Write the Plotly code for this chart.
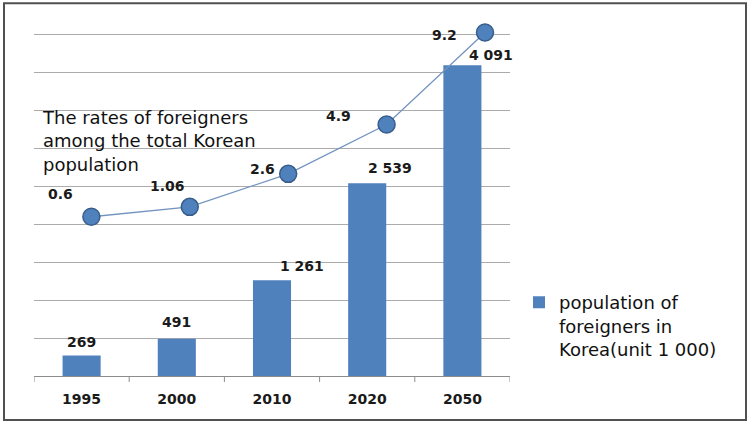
import plotly.graph_objects as go

years = ["1995", "2000", "2010", "2020", "2050"]
population = [269, 491, 1261, 2539, 4091]
rates = [0.6, 1.06, 2.6, 4.9, 9.2]
rates_text = ["0.6", "1.06", "2.6", "4.9", "9.2"]
bar_name = "population of<br>foreigners in<br>Korea(unit 1 000)"
line_note = "The rates of foreigners<br>among the total Korean<br>population"

# label offsets (style only)
bar_lbl_dx = [0, 0, 30, 23, 29]
bar_lbl_dy = [14, 17, 14, 15, 10]
rate_lbl_dx = [-31, -22, -26, -48, -41]
rate_lbl_dy = [23, 21, 5, 9, -3]

FONT = "DejaVu Sans"
W, H = 750, 426
Y_TOP = 4700
AX_Y, GRID_TOP_Y = 376, 34          # pixel rows of 0 and 4500
ppu = (AX_Y - GRID_TOP_Y) / 4500.0
L, R, B = 34, 240, H - AX_Y
T = GRID_TOP_Y - (Y_TOP - 4500) * ppu
pw, ph = W - L - R, H - T - B

def px(x):
    return (x - L) / pw

def py(y):
    return (H - B - y) / ph

# secondary (rate) axis mapping: value 0 at pixel 229.5, 21.44 px per unit
y2_lo = (229.5 - AX_Y) / 21.44
y2_hi = (229.5 - T) / 21.44

idx = list(range(len(years)))

fig = go.Figure()
fig.add_trace(go.Bar(
    x=idx, y=population, name=bar_name, width=0.4,
    marker=dict(color="#4f81bd", line=dict(width=0)),
    xaxis="x", yaxis="y",
))
fig.add_trace(go.Scatter(
    x=idx, y=rates, mode="lines+markers", showlegend=False,
    line=dict(color="#7393c0", width=1.3),
    marker=dict(size=17, color="#4f81bd", line=dict(color="#385d8a", width=1.5)),
    xaxis="x2", yaxis="y2", cliponaxis=False,
))

annotations = []
for i, v in enumerate(population):
    annotations.append(dict(
        x=i, y=v, xref="x", yref="y", text=f"{v:,}".replace(",", " "),
        showarrow=False, xshift=bar_lbl_dx[i], yshift=bar_lbl_dy[i],
        font=dict(family=FONT, size=14, color="#1a1a1a", weight="bold"),
    ))
for i, v in enumerate(rates):
    annotations.append(dict(
        x=i, y=v, xref="x2", yref="y2", text=rates_text[i],
        showarrow=False, xshift=rate_lbl_dx[i], yshift=rate_lbl_dy[i],
        font=dict(family=FONT, size=14, color="#1a1a1a", weight="bold"),
    ))
annotations.append(dict(
    x=px(40), y=py(105), xref="paper", yref="paper", xanchor="left", yanchor="top",
    text=line_note, showarrow=False, align="left",
    font=dict(family=FONT, size=18, color="#111111"),
))

# category boundary ticks
bounds = [i - 0.5 for i in range(len(years) + 1)]
shapes = [dict(
    type="line", xref="x", yref="paper", x0=b, x1=b, y0=0, y1=py(382),
    line=dict(color="#8c8c8c", width=1),
) for b in bounds]
shapes.append(dict(
    type="rect", xref="paper", yref="paper",
    x0=px(4), x1=px(746), y0=py(420), y1=py(3),
    line=dict(color="#505050", width=2), layer="above",
))

fig.update_layout(
    width=W, height=H,
    margin=dict(l=L, r=R, t=T, b=B, pad=0),
    paper_bgcolor="white", plot_bgcolor="white",
    font=dict(family=FONT, color="#111111"),
    xaxis=dict(
        range=[-0.5, 4.5], tickmode="array", tickvals=idx, ticktext=years,
        showline=True, linecolor="#8c8c8c", linewidth=1, ticks="",
        tickfont=dict(family=FONT, size=14, color="#1a1a1a", weight="bold"),
        showgrid=False, zeroline=False, automargin=False, ticklabelstandoff=10,
    ),
    yaxis=dict(
        range=[0, Y_TOP], dtick=500, showgrid=True, gridcolor="#ababab",
        gridwidth=1, showticklabels=False, zeroline=False, showline=False,
        automargin=False,
    ),
    xaxis2=dict(
        overlaying="x", range=[-0.583, 4.254], visible=False,
    ),
    yaxis2=dict(
        overlaying="y", range=[y2_lo, y2_hi], visible=False,
    ),
    legend=dict(
        x=px(519), y=py(284), xanchor="left", yanchor="top", valign="top",
        font=dict(family=FONT, size=18, color="#111111"),
        bgcolor="rgba(0,0,0,0)",
    ),
    showlegend=True,
    annotations=annotations,
    shapes=shapes,
)

fig.write_html("out.html")
